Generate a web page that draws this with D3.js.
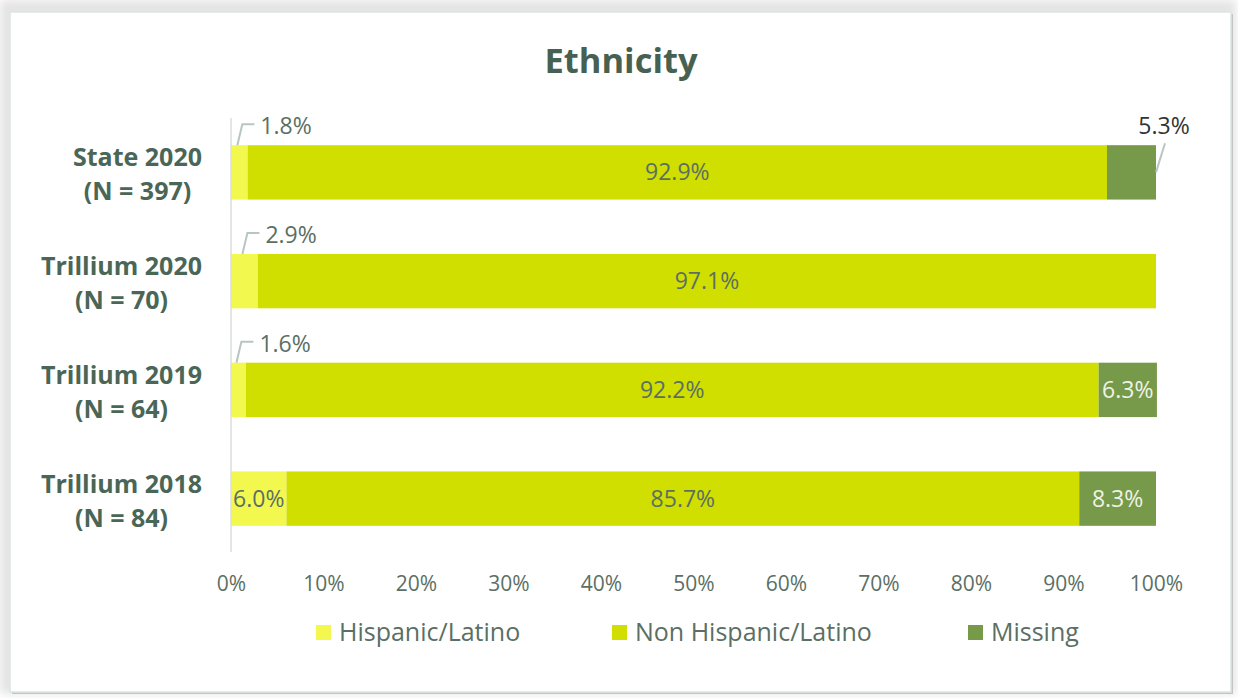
<!DOCTYPE html>
<html>
<head>
<meta charset="utf-8">
<script src="https://cdn.jsdelivr.net/npm/d3@7"></script>
<style>
  html, body { margin: 0; padding: 0; background: #fff; }
  svg { display: block; font-family: "Open Sans", sans-serif; }
</style>
</head>
<body>
<svg id="chart" width="1238" height="698"></svg>
<script>
// chart data
const categories = [["State 2020", "(N = 397)"], ["Trillium 2020", "(N = 70)"],
    ["Trillium 2019", "(N = 64)"], ["Trillium 2018", "(N = 84)"]];
const seriesNames = ["Hispanic/Latino", "Non Hispanic/Latino", "Missing"];
const hispanic = [1.8, 2.9, 1.6, 6.0];
const nonHispanic = [92.9, 97.1, 92.2, 85.7];
const missing = [5.3, 0, 6.3, 8.3];
const ticks = [0, 10, 20, 30, 40, 50, 60, 70, 80, 90, 100];
const colors = ["#f3f84f", "#d0de00", "#77994a"];

const svg = d3.select("#chart");

// card frame
const defs = svg.append("defs");
defs.append("filter").attr("id", "blur")
    .append("feGaussianBlur").attr("stdDeviation", 4);
svg.append("rect").attr("x", 0).attr("y", 0).attr("width", 1236).attr("height", 694)
    .attr("fill", "#e4e4e4").attr("filter", "url(#blur)");
svg.append("rect").attr("x", 12).attr("y", 14).attr("width", 1221).attr("height", 680)
    .attr("fill", "#c4c4c4");
svg.append("rect").attr("x", 10).attr("y", 12).attr("width", 1221).attr("height", 680)
    .attr("fill", "#fff").attr("stroke", "#dbe6e2").attr("stroke-width", 1.5);

const x = d3.scaleLinear().domain([0, 100]).range([231, 1156]);
const y = d3.scaleBand().domain(d3.range(categories.length)).range([118, 553])
    .paddingInner(0.5).paddingOuter(0.25);

const rows = categories.map((c, i) => ({ i, vals: [hispanic[i], nonHispanic[i], missing[i]] }));

// title
svg.append("text").attr("x", 621).attr("y", 73).attr("text-anchor", "middle")
    .attr("font-size", 34.5).attr("font-weight", "bold").attr("fill", "#466151")
    .text("Ethnicity");

// bars
const segs = [];
rows.forEach(r => {
    let acc = 0;
    r.vals.forEach((v, k) => {
        segs.push({ row: r.i, k, v, x0: acc, x1: acc + v });
        acc += v;
    });
});

svg.append("g").selectAll("rect")
    .data(segs.filter(d => d.v > 0))
    .join("rect")
    .attr("x", d => x(d.x0))
    .attr("y", d => y(d.row))
    .attr("width", d => x(d.x1) - x(d.x0))
    .attr("height", y.bandwidth())
    .attr("fill", d => colors[d.k]);

// vertical axis line
svg.append("line").attr("x1", x(0)).attr("x2", x(0)).attr("y1", 118).attr("y2", 552)
    .attr("stroke", "#d9dedc").attr("stroke-width", 1.5);

// x tick labels
const xAxis = svg.append("g").attr("transform", "translate(0,564)")
    .call(d3.axisBottom(x).tickValues(ticks).tickFormat(d => d + "%").tickSize(0).tickPadding(12));
xAxis.select(".domain").remove();
xAxis.selectAll("text").attr("font-size", 21).attr("fill", "#5b6f64")
    .attr("font-family", "Open Sans, sans-serif");

// category labels (lines centred on each other, block right-aligned)
categories.forEach((lines, i) => {
    const g = svg.append("g");
    const t = g.selectAll("text").data(lines).join("text")
        .attr("font-size", 25).attr("font-weight", "bold").attr("fill", "#4a6656")
        .attr("text-anchor", "middle")
        .attr("y", (d, j) => y(i) + y.bandwidth() / 2 + (j === 0 ? -6 : 28))
        .text(d => d);
    const w = d3.max(t.nodes(), n => n.getComputedTextLength());
    t.attr("x", 202 - w / 2);
});

// value labels
const fmt = v => v.toFixed(1) + "%";
const labelG = svg.append("g").attr("font-size", 23);
segs.filter(d => d.v > 0).forEach(d => {
    const cx = (x(d.x0) + x(d.x1)) / 2;
    const top = y(d.row);
    const mid = top + y.bandwidth() / 2;
    if (d.k === 0 && d.v < 4) {
        // label above bar with elbow leader
        labelG.append("path")
            .attr("d", `M${cx - 2},${top} L${cx + 3},${top - 21} L${cx + 15},${top - 21}`)
            .attr("fill", "none").attr("stroke", "#b7c6c3").attr("stroke-width", 2);
        labelG.append("text").attr("x", cx + 21).attr("y", top - 11)
            .attr("fill", "#5b6f64").text(fmt(d.v));
    } else if (d.k === 2 && d.row === 0) {
        // outside label at the bar end
        const ex = x(d.x1);
        labelG.append("line").attr("x1", ex).attr("y1", mid).attr("x2", ex + 9).attr("y2", top - 2)
            .attr("stroke", "#b7c6c3").attr("stroke-width", 2);
        labelG.append("text").attr("x", ex + 8).attr("y", top - 11).attr("text-anchor", "middle")
            .attr("fill", "#333").text(fmt(d.v));
    } else {
        labelG.append("text").attr("x", cx).attr("y", mid + 8).attr("text-anchor", "middle")
            .attr("fill", d.k === 2 ? "#eef3e4" : "#5b6f64").text(fmt(d.v));
    }
});

// legend
const legendX = [316, 612, 968];
const legend = svg.append("g").selectAll("g").data(seriesNames).join("g")
    .attr("transform", (d, i) => `translate(${legendX[i]},632)`);
legend.append("rect").attr("x", 0).attr("y", -7).attr("width", 15).attr("height", 15)
    .attr("fill", (d, i) => colors[i]);
legend.append("text").attr("x", 23).attr("y", 9).attr("font-size", 25)
    .attr("fill", "#5b6f64").text(d => d);
</script>
</body>
</html>
